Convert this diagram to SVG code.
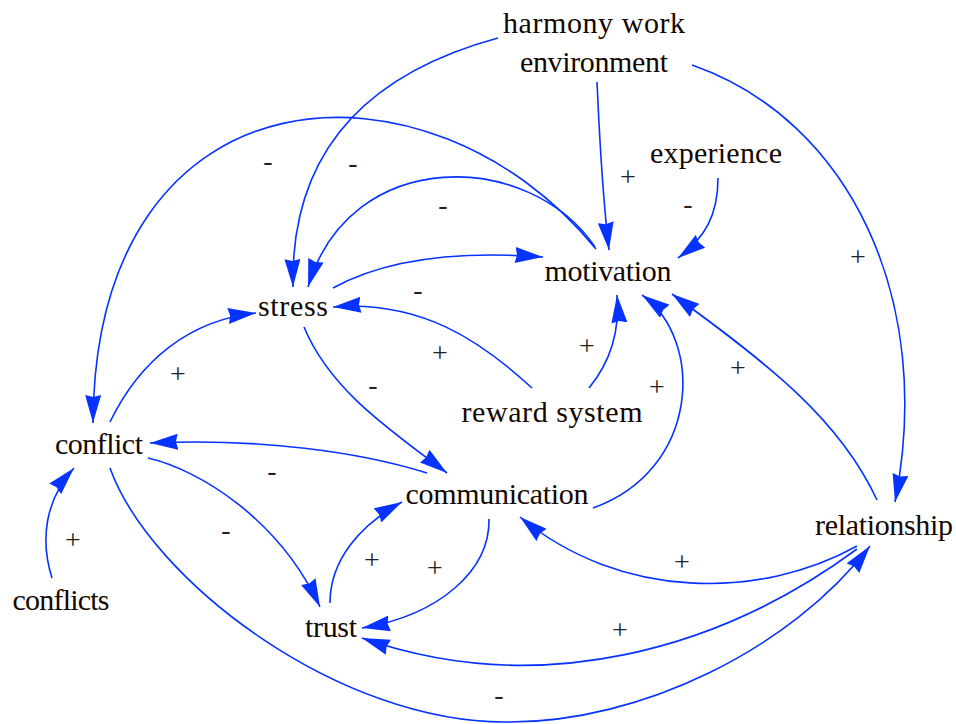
<svg xmlns="http://www.w3.org/2000/svg" width="956" height="724" viewBox="0 0 956 724">
  <defs>
    <marker id="arrow" viewBox="0 0 28 16" refX="28" refY="8" markerWidth="28" markerHeight="16" markerUnits="userSpaceOnUse" orient="auto">
      <path d="M0,0 L28,8 L0,16 L2,8 z" fill="#0633ff"/>
    </marker>
    <style>
      .link { fill: none; stroke: #0633ff; stroke-width: 1.6; marker-end: url(#arrow); }
      .node { font-size: 30px; fill: #140800; text-anchor: middle; }
      .pol { font-size: 28px; fill: #222; text-anchor: middle; }
    </style>
  </defs>
  <rect width="956" height="724" fill="#ffffff"/>

  <!-- causal links -->
  <g id="connectors">
    <path class="link" d="M498,38 C380,70 290,140 293,287"/>
    <path class="link" d="M596,249 C430,45 95,60 93,423"/>
    <path class="link" d="M595,247 C530,150 350,145 308,287"/>
    <path class="link" d="M597,82 C600,150 603,200 609,250"/>
    <path class="link" d="M718,178 C718,215 705,238 678,258"/>
    <path class="link" d="M692,65 C850,120 935,300 895,502"/>
    <path class="link" d="M333,288 C380,262 450,250 543,257"/>
    <path class="link" d="M532,388 C480,340 420,300 333,307"/>
    <path class="link" d="M589,388 C612,360 620,330 617,295"/>
    <path class="link" d="M593,508 C700,470 705,340 642,295"/>
    <path class="link" d="M877,500 C840,420 770,365 672,294"/>
    <path class="link" d="M304,327 C330,390 390,430 447,473"/>
    <path class="link" d="M427,473 C360,452 260,438 150,443"/>
    <path class="link" d="M110,422 C140,360 190,320 256,313"/>
    <path class="link" d="M52,578 C40,540 45,500 74,468"/>
    <path class="link" d="M148,458 C200,470 280,520 320,607"/>
    <path class="link" d="M110,468 C150,580 340,725 510,722 C640,722 790,650 870,546"/>
    <path class="link" d="M857,546 C760,600 620,600 520,517"/>
    <path class="link" d="M857,549 C720,650 540,700 362,638"/>
    <path class="link" d="M489,519 C490,570 440,615 362,628"/>
    <path class="link" d="M330,603 C330,560 360,525 402,502"/>
  </g>

  <!-- link polarities -->
  <g id="polarities" font-family="Liberation Serif, serif">
    <text class="pol" x="268" y="170">-</text>
    <text class="pol" x="353" y="172">-</text>
    <text class="pol" x="443" y="214">-</text>
    <text class="pol" x="628" y="186">+</text>
    <text class="pol" x="688" y="213">-</text>
    <text class="pol" x="858" y="266">+</text>
    <text class="pol" x="418" y="299">-</text>
    <text class="pol" x="440" y="362">+</text>
    <text class="pol" x="587" y="355">+</text>
    <text class="pol" x="657" y="396">+</text>
    <text class="pol" x="738" y="377">+</text>
    <text class="pol" x="178" y="383">+</text>
    <text class="pol" x="373" y="394">-</text>
    <text class="pol" x="272" y="480">-</text>
    <text class="pol" x="226" y="539">-</text>
    <text class="pol" x="73" y="549">+</text>
    <text class="pol" x="372" y="569">+</text>
    <text class="pol" x="435" y="577">+</text>
    <text class="pol" x="682" y="571">+</text>
    <text class="pol" x="620" y="639">+</text>
    <text class="pol" x="499" y="704">-</text>
  </g>

  <!-- variables -->
  <g id="nodes" font-family="Liberation Serif, serif">
    <g id="harmony-work-environment">
      <text class="node" x="594" y="33" textLength="182">harmony work</text>
      <text class="node" x="594" y="72" textLength="148">environment</text>
    </g>
    <g id="experience"><text class="node" x="716" y="163" textLength="132">experience</text></g>
    <g id="motivation"><text class="node" x="608" y="281" textLength="127">motivation</text></g>
    <g id="stress"><text class="node" x="293" y="316" textLength="70">stress</text></g>
    <g id="reward-system"><text class="node" x="552" y="422" textLength="181">reward system</text></g>
    <g id="conflict"><text class="node" x="99" y="454" textLength="88">conflict</text></g>
    <g id="communication"><text class="node" x="497" y="504" textLength="183">communication</text></g>
    <g id="relationship"><text class="node" x="884" y="535" textLength="138">relationship</text></g>
    <g id="conflicts"><text class="node" x="61" y="610" textLength="97">conflicts</text></g>
    <g id="trust"><text class="node" x="331" y="637" textLength="52">trust</text></g>
  </g>
</svg>
